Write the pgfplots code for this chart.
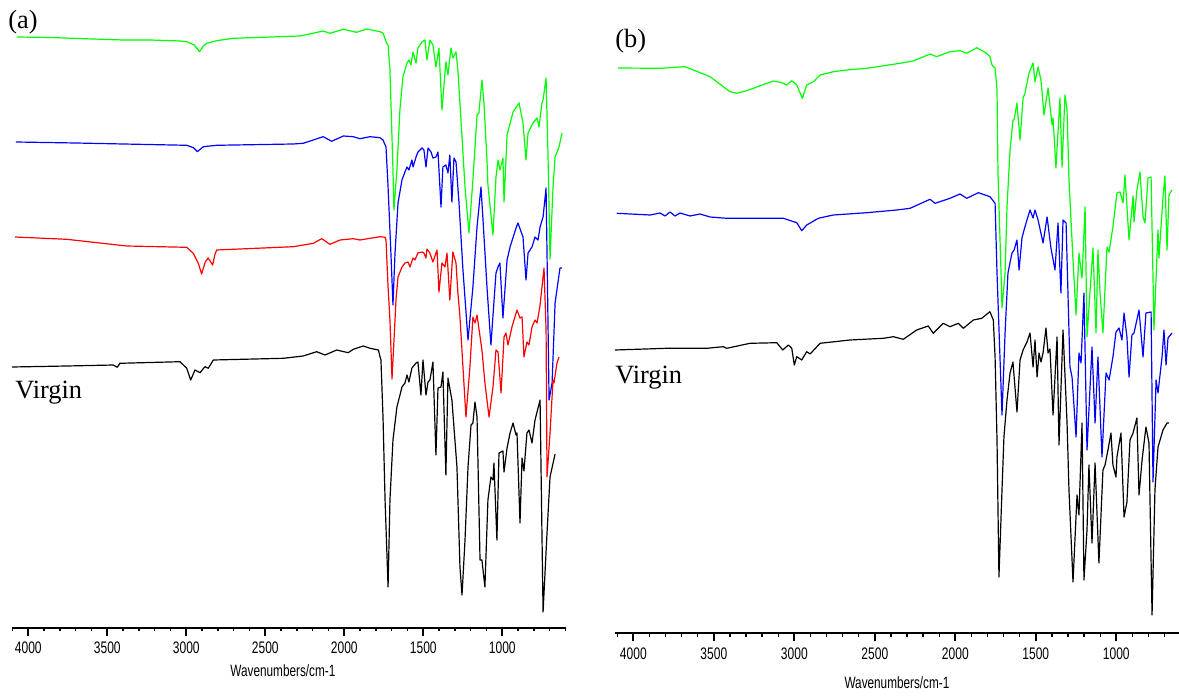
\documentclass[border=0pt]{standalone}
\usepackage{fontspec}
\setmainfont{Liberation Serif}
\newfontfamily\narrowsans[FakeStretch=0.72]{Liberation Sans}
\usepackage{pgfplots}
\pgfplotsset{compat=1.18}
\definecolor{ftgreen}{RGB}{0,255,0}
\definecolor{ftblue}{RGB}{0,0,255}
\definecolor{ftred}{RGB}{255,0,0}
\pgfplotsset{ftir/.style={
  scale only axis, clip=false,
  x dir=reverse,
  axis x line*=bottom, axis y line=none,
  axis line style={line width=1.1pt,-},
  xtick={1000,1500,2000,2500,3000,3500,4000},
  minor xtick={600,700,800,900,1100,1200,1300,1400,1600,1700,1800,1900,2100,2200,2300,2400,2600,2700,2800,2900,3100,3200,3300,3400,3600,3700,3800,3900,4100},
  tick align=outside,
  major tick length=0.16cm, minor tick length=0.07cm,
  every major tick/.style={line width=1.1pt, black},
  every minor tick/.style={line width=0.8pt, black},
  xticklabel style={font=\narrowsans\fontsize{9.5}{11}\selectfont, inner sep=1pt, yshift=-0.09cm},
  /pgf/number format/assume math mode=true,
  /pgf/number format/set thousands separator={},
  xlabel={Wavenumbers/cm-1},
  xlabel style={font=\narrowsans\fontsize{9.3}{11}\selectfont, anchor=center},
  ymax=0,
  every axis plot/.append style={line width=0.68pt, line join=round},
}}
\begin{document}
\begin{tikzpicture}
\useasboundingbox (0,0) rectangle (23.58,13.9);
% ---------------- panel (a)
\begin{axis}[ftir,
  at={(0.234cm,1.346cm)}, anchor=south west,
  width=11.092cm, height=12.554cm,
  xmin=595, xmax=4105, ymin=-627.7,
  xlabel style={at={(axis description cs:0.489,-0.0685)}},
]
\addplot[ftgreen] table {
4072 -37
3863 -37.5
3591 -39
3401 -40
3230 -40
3040 -41
2996 -41.7
2950 -45
2916 -51.7
2890 -45.5
2871 -43.3
2808 -40.7
2703 -38.3
2280 -36
2133 -31
2091 -33.3
2006 -29.3
1922 -32.3
1858 -29
1774 -31.7
1755 -33
1732 -43.3
1723 -45
1711 -70
1692 -170
1686 -210
1667 -170
1648 -110
1629 -77
1603 -63
1591 -60
1578 -65
1565 -52
1546 -63
1534 -48
1508 -42
1489 -40
1477 -60
1458 -40
1439 -45
1420 -67
1401 -48
1382 -110
1357 -62
1344 -75
1325 -48
1313 -58
1293 -52
1281 -70
1255 -137
1236 -187
1211 -233
1186 -180
1160 -115
1148 -113
1129 -80
1116 -103
1097 -160
1091 -185
1059 -235
1040 -177
1027 -160
1015 -170
996 -158
989 -202
970 -135
932 -112
894 -103
869 -123
850 -160
837 -133
806 -123
780 -118
768 -127
749 -103
742 -100
723 -78
711 -153
698 -259
679 -187
666 -157
641 -147
622 -133
};
\addplot[ftblue] table {
4078 -142
3700 -143
3397 -144
2997 -145.3
2955 -147.7
2930 -151.7
2892 -146.7
2808 -145.3
2323 -144
2260 -143.3
2133 -136.7
2080 -141.3
2006 -136
1943 -136.7
1901 -138.7
1837 -136.7
1774 -137.7
1755 -140
1736 -147
1723 -187
1705 -253
1692 -305
1679 -253
1660 -203
1635 -180
1616 -172
1603 -167
1591 -170
1572 -160
1565 -167
1546 -157
1534 -152
1508 -148
1496 -150
1483 -167
1470 -148
1451 -152
1439 -158
1420 -157
1407 -152
1388 -207
1376 -167
1357 -165
1344 -173
1332 -155
1319 -202
1306 -158
1293 -162
1274 -203
1249 -270
1217 -340
1186 -287
1160 -227
1135 -187
1122 -220
1097 -287
1072 -345
1040 -273
1027 -267
1015 -263
996 -318
970 -260
951 -247
913 -228
901 -223
869 -237
850 -280
837 -253
812 -247
793 -237
774 -240
761 -227
742 -217
723 -188
717 -253
704 -400
685 -383
666 -303
635 -268
622 -268
};
\addplot[ftred] table {
4084 -237
3757 -239.3
3377 -246
2997 -247.3
2956 -253.3
2924 -263.3
2903 -274
2880 -262
2862 -258
2845 -262
2833 -265
2820 -255
2808 -250
2323 -246.7
2196 -243.3
2143 -238.7
2091 -244.3
2027 -240
1943 -238.7
1901 -240
1774 -236.7
1742 -237.3
1736 -240
1723 -287
1711 -320
1698 -379
1679 -320
1673 -300
1660 -277
1635 -267
1616 -263
1597 -262
1584 -267
1565 -258
1553 -260
1534 -253
1508 -252
1496 -253
1483 -258
1477 -249
1458 -253
1439 -262
1413 -250
1401 -292
1382 -263
1363 -267
1350 -253
1332 -300
1313 -252
1293 -263
1281 -293
1268 -317
1230 -417
1205 -367
1186 -317
1173 -323
1160 -315
1129 -350
1110 -383
1084 -417
1059 -387
1040 -350
1027 -352
1008 -393
989 -337
977 -333
964 -345
939 -327
907 -310
888 -318
875 -317
863 -357
844 -342
831 -345
812 -327
793 -320
780 -323
761 -305
736 -268
723 -330
717 -477
698 -433
679 -380
673 -383
654 -363
641 -357
};
\addplot[black] table {
4103 -367
3757 -366
3462 -365
3437 -367.3
3420 -363.3
3040 -361.7
2997 -368.3
2972 -380
2945 -370
2913 -372.7
2882 -366.7
2861 -368.3
2829 -360
2386 -358.3
2260 -356
2175 -351.7
2122 -355
2048 -350
1975 -352.7
1943 -349.3
1880 -346
1837 -348.3
1784 -350
1774 -356.7
1768 -360
1755 -417
1742 -500
1723 -587
1711 -500
1692 -440
1667 -407
1635 -387
1616 -383
1603 -375
1591 -382
1572 -368
1546 -363
1534 -362
1515 -395
1502 -360
1483 -395
1470 -382
1458 -380
1439 -362
1420 -455
1407 -388
1388 -387
1376 -372
1357 -475
1344 -378
1319 -400
1287 -467
1268 -567
1255 -595
1236 -540
1217 -467
1198 -425
1186 -423
1173 -402
1160 -417
1141 -560
1129 -560
1110 -587
1091 -500
1072 -477
1059 -480
1053 -463
1034 -540
1021 -453
996 -451
989 -472
970 -448
951 -433
932 -423
913 -435
907 -433
888 -523
875 -458
863 -471
844 -433
831 -430
812 -443
793 -420
761 -400
742 -612
717 -533
698 -477
666 -454
};
\node[anchor=base west, inner sep=0, font=\fontsize{15}{18}\selectfont] at (axis cs:4128,-28.5) {(a)};
\node[anchor=base west, inner sep=0, font=\fontsize{15}{18}\selectfont] at (axis cs:4084,-398.4) {Virgin};
\end{axis}
% ---------------- panel (b)
\begin{axis}[ftir,
  at={(12.306cm,1.234cm)}, anchor=south west,
  width=11.276cm, height=12.666cm,
  xmin=610, xmax=4112, ymin=-633.3,
  xlabel style={at={(axis description cs:0.4996,-0.0785)}},
]
\addplot[ftgreen] table {
4095 -68
3834 -68.3
3679 -66.7
3523 -76.7
3441 -86.7
3400 -91.7
3358 -93.3
3296 -90.7
3130 -81
3078 -82.7
3047 -85
3016 -80.7
2985 -85
2950 -98.3
2923 -85
2881 -81.7
2840 -75
2757 -71.7
2675 -70
2550 -68.3
2344 -63.3
2261 -61
2157 -54
2116 -56.7
2033 -51.7
1971 -50.7
1929 -53.3
1867 -47.7
1805 -53.3
1785 -56.7
1772 -65
1753 -68
1741 -90
1735 -173
1716 -273
1710 -308
1691 -273
1679 -207
1660 -150
1642 -120
1635 -120
1617 -103
1598 -140
1579 -98
1567 -93
1542 -73
1517 -63
1505 -82
1486 -67
1468 -80
1449 -115
1424 -88
1399 -125
1393 -118
1375 -168
1350 -98
1337 -167
1319 -95
1306 -110
1294 -180
1269 -260
1250 -315
1232 -253
1213 -278
1194 -207
1182 -337
1145 -248
1126 -333
1114 -250
1101 -293
1083 -333
1058 -247
1045 -252
1021 -227
996 -193
977 -192
958 -203
946 -175
921 -240
896 -196
890 -222
872 -190
853 -172
834 -217
822 -223
803 -178
784 -177
766 -330
741 -230
735 -258
710 -197
698 -176
685 -250
673 -195
654 -190
};
\addplot[ftblue] table {
4103 -213.3
3896 -215
3834 -213
3803 -216
3772 -212
3741 -216
3710 -213
3648 -216
3586 -214
3523 -217
3420 -218.3
3171 -218.3
3068 -218.3
2985 -222.7
2954 -230.7
2923 -225
2851 -218.3
2758 -215
2550 -212.7
2364 -210
2281 -208.3
2157 -199.3
2126 -203.3
2033 -198.3
1971 -194
1929 -198.3
1857 -192.7
1785 -196.7
1753 -203.3
1741 -273
1710 -415
1691 -333
1673 -273
1648 -253
1635 -250
1617 -240
1604 -270
1586 -238
1573 -230
1555 -220
1536 -210
1517 -218
1505 -210
1486 -220
1455 -243
1430 -217
1406 -248
1381 -270
1362 -223
1344 -293
1331 -220
1312 -223
1288 -367
1275 -377
1250 -437
1232 -353
1219 -363
1201 -293
1182 -450
1151 -347
1132 -423
1114 -357
1089 -457
1064 -373
1045 -380
1021 -357
1002 -332
983 -328
965 -340
952 -313
934 -337
921 -377
903 -335
890 -333
859 -310
834 -357
816 -313
784 -312
772 -482
753 -380
741 -393
716 -357
704 -330
691 -365
679 -338
654 -333
};
\addplot[black] table {
4114 -350
3793 -348.3
3544 -348.3
3441 -346.7
3420 -348.3
3275 -343.3
3109 -342.7
3072 -350
3037 -345
3016 -348.3
3000 -365
2985 -356.7
2954 -360
2923 -351.7
2902 -354
2840 -343.3
2654 -340
2447 -338.3
2385 -336.7
2323 -339.3
2240 -330
2168 -326
2137 -333.3
2075 -323.3
2033 -326.7
1981 -323.3
1950 -328.3
1888 -320
1836 -318.3
1785 -311.7
1764 -320
1753 -357
1741 -440
1729 -577
1710 -490
1698 -437
1679 -400
1660 -373
1642 -362
1617 -412
1598 -360
1579 -350
1555 -342
1536 -333
1517 -367
1505 -340
1492 -377
1480 -353
1468 -362
1455 -353
1437 -328
1424 -353
1412 -349
1393 -415
1368 -337
1356 -445
1331 -330
1306 -423
1294 -490
1269 -582
1244 -495
1232 -515
1213 -423
1201 -580
1182 -530
1170 -465
1151 -543
1132 -463
1108 -563
1083 -470
1070 -465
1052 -450
1033 -433
1021 -465
1002 -477
996 -457
971 -433
952 -517
934 -502
915 -440
896 -433
872 -418
859 -495
840 -460
816 -427
797 -443
778 -615
760 -490
741 -447
710 -430
685 -423
673 -423
};
\node[anchor=base west, inner sep=0, font=\fontsize{15}{18}\selectfont] at (axis cs:4114,-47.5) {(b)};
\node[anchor=base west, inner sep=0, font=\fontsize{15}{18}\selectfont] at (axis cs:4114,-383.3) {Virgin};
\end{axis}
\end{tikzpicture}
\end{document}
